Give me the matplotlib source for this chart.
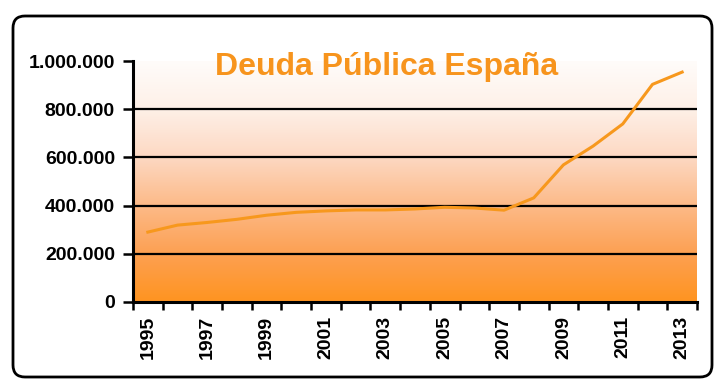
import numpy as np
import matplotlib
matplotlib.use("Agg")
import matplotlib.pyplot as plt
from matplotlib.colors import LinearSegmentedColormap
from matplotlib.patches import FancyBboxPatch
from matplotlib.transforms import IdentityTransform
from matplotlib.ticker import FuncFormatter, FixedLocator

# datos (millones de euros)
anios = list(range(1995, 2014))
deuda = [290000, 319000, 330000, 343000, 360000, 372000, 378000, 382000,
         382000, 386000, 393000, 390000, 381000, 432000, 569000, 647000,
         739000, 903000, 954000]
yticks = [0, 200000, 400000, 600000, 800000, 1000000]
titulo = "Deuda Pública España"

plt.rcParams['font.family'] = ['Liberation Sans', 'DejaVu Sans']

W, H = 723, 389
fig = plt.figure(figsize=(W / 100, H / 100), dpi=100)

# marco redondeado (en píxeles)
marco = FancyBboxPatch((13, 12), 699, 361,
                       boxstyle="round,pad=0,rounding_size=12",
                       transform=IdentityTransform(), fill=False,
                       edgecolor='black', linewidth=2.0)
fig.patches.append(marco)

ax = fig.add_axes([133 / W, 1 - 302 / H, (697 - 133) / W, (302 - 61) / H])

# fondo degradado
cmap = LinearSegmentedColormap.from_list(
    "fondo", [(0.0, "#ff9420"), (0.2, "#fda052"), (0.4, "#fcba88"),
              (0.6, "#fdd8c2"), (0.8, "#fef0e7"), (1.0, "#fffcfa")])
x = np.arange(len(anios))
ax.imshow(np.linspace(0, 1, 256).reshape(-1, 1), cmap=cmap, aspect='auto',
          origin='lower', extent=(-0.5, len(anios) - 0.5, 0, 1000000),
          zorder=0)

for v in yticks[1:-1]:
    ax.axhline(v, color='black', linewidth=1.6, zorder=1)

ax.plot(x, deuda, color='#f7981d', linewidth=2.2, zorder=3)

ax.set_xlim(-0.5, len(anios) - 0.5)
ax.set_ylim(0, 1000000)
ax.set_yticks(yticks)
ax.yaxis.set_major_formatter(FuncFormatter(lambda v, p: f"{v:,.0f}".replace(",", ".")))

ax.xaxis.set_major_locator(FixedLocator(np.arange(-0.5, len(anios), 1.0)))
ax.set_xticklabels([])
ax.set_xticks(x[::2], minor=True)
ax.set_xticklabels([str(a) for a in anios[::2]], minor=True, rotation=90,
                   fontweight='bold', fontsize=14)
ax.tick_params(axis='x', which='minor', length=0, pad=10)
ax.tick_params(axis='x', which='major', length=6, width=1.8, direction='out')
ax.tick_params(axis='y', length=7, width=1.8, pad=6, labelsize=14)
for lbl in ax.get_yticklabels():
    lbl.set_fontweight('bold')

for s in ['top', 'right']:
    ax.spines[s].set_visible(False)
for s in ['left', 'bottom']:
    ax.spines[s].set_linewidth(2.2)
    ax.spines[s].set_zorder(4)

fig.text(386.5 / W, 1 - 75 / H, titulo, ha='center', va='baseline',
         color='#f7941d', fontsize=23, fontweight='bold')

fig.savefig("out.png", dpi=100)
